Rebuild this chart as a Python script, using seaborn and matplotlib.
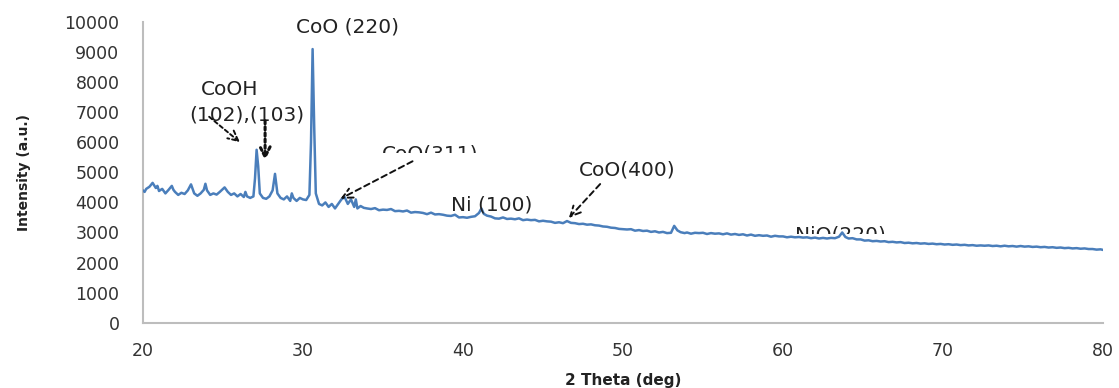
import matplotlib
matplotlib.use("Agg")
import matplotlib.pyplot as plt
import seaborn as sns
import pandas as pd
from matplotlib.transforms import Bbox, TransformedBbox

two_theta = [
    20.0, 20.1, 20.2, 20.4, 20.6, 20.8, 20.9, 21.0, 21.2, 21.4, 21.6, 21.8,
    21.9, 22.0, 22.2, 22.4, 22.6, 22.8, 23.0, 23.2, 23.4, 23.6, 23.8,
    23.9, 24.0, 24.2, 24.4, 24.6, 24.8, 25.0, 25.1, 25.3, 25.5,
    25.7, 25.9, 26.1, 26.3, 26.4, 26.5, 26.7, 26.9, 27.0, 27.1,
    27.2, 27.3, 27.5, 27.7, 27.9, 28.1, 28.25, 28.4, 28.6, 28.8,
    29.0, 29.2, 29.3, 29.4, 29.6, 29.8, 30.0, 30.2, 30.4, 30.5,
    30.6, 30.7, 30.8, 31.0, 31.2, 31.4, 31.6, 31.8, 32.0, 32.2,
    32.4, 32.6, 32.8, 33.0, 33.2, 33.3, 33.4, 33.6, 33.8,
    34.0, 34.25, 34.5, 34.75, 35.0, 35.25, 35.5, 35.75, 36.0, 36.25,
    36.5, 36.75, 37.0, 37.25, 37.5, 37.75, 38.0, 38.25, 38.5, 38.75,
    39.0, 39.25, 39.5, 39.75, 40.0, 40.25, 40.5, 40.75, 41.0, 41.15,
    41.3, 41.5, 41.75, 42.0, 42.25, 42.5, 42.75, 43.0, 43.25, 43.5,
    43.75, 44.0, 44.25, 44.5, 44.75, 45.0, 45.25, 45.5, 45.75, 46.0,
    46.25, 46.5, 46.75, 47.0, 47.25, 47.5, 47.75, 48.0, 48.25, 48.5,
    48.75, 49.0, 49.25, 49.5, 49.75, 50.0, 50.25, 50.5, 50.75, 51.0,
    51.25, 51.5, 51.75, 52.0, 52.25, 52.5, 52.75, 53.0, 53.2, 53.4,
    53.6, 53.85, 54.0, 54.25, 54.5, 54.75, 55.0, 55.25, 55.5, 55.75,
    56.0, 56.25, 56.5, 56.75, 57.0, 57.25, 57.5, 57.75, 58.0, 58.25,
    58.5, 58.75, 59.0, 59.25, 59.5, 59.75, 60.0, 60.25, 60.5, 60.75,
    61.0, 61.25, 61.5, 61.75, 62.0, 62.25, 62.5, 62.75, 63.0, 63.25,
    63.5, 63.7, 63.9, 64.1, 64.35, 64.6, 64.85, 65.1, 65.35, 65.6,
    65.85, 66.1, 66.35, 66.6, 66.85, 67.1, 67.35, 67.6, 67.85, 68.1,
    68.35, 68.6, 68.85, 69.1, 69.35, 69.6, 69.85, 70.1, 70.35, 70.6,
    70.85, 71.1, 71.35, 71.6, 71.85, 72.1, 72.35, 72.6, 72.85, 73.1,
    73.35, 73.6, 73.85, 74.1, 74.35, 74.6, 74.85, 75.1, 75.35, 75.6,
    75.85, 76.1, 76.35, 76.6, 76.85, 77.1, 77.35, 77.6, 77.85, 78.1,
    78.35, 78.6, 78.85, 79.1, 79.35, 79.6, 79.85, 80.0,
]
intensity = [
    4400, 4350, 4450, 4520, 4650, 4480, 4550, 4380, 4450, 4300, 4420, 4550,
    4420, 4350, 4250, 4320, 4280, 4400, 4600, 4300, 4220, 4300, 4420,
    4620, 4400, 4250, 4300, 4260, 4350, 4450, 4500, 4350, 4250,
    4300, 4200, 4280, 4180, 4350, 4200, 4150, 4200, 4800, 5750,
    5200, 4300, 4150, 4120, 4200, 4400, 4950, 4300, 4150, 4100,
    4200, 4050, 4300, 4150, 4050, 4150, 4100, 4080, 4250, 6000,
    9100, 6500, 4300, 3950, 3900, 4000, 3850, 3950, 3800, 3950,
    4100, 4180, 3950, 4100, 3850, 4100, 3800, 3880, 3820,
    3800, 3780, 3810, 3740, 3760, 3750, 3780, 3710, 3720, 3700,
    3730, 3660, 3680, 3670, 3650, 3610, 3660, 3600, 3610, 3590,
    3560, 3550, 3590, 3500, 3510, 3490, 3520, 3540, 3650, 3800,
    3620, 3560, 3530, 3470, 3460, 3500, 3450, 3460, 3440, 3470,
    3410, 3430, 3410, 3420, 3370, 3390, 3370, 3360, 3320, 3340,
    3310, 3380, 3320, 3310, 3280, 3290, 3260, 3270, 3240, 3230,
    3200, 3190, 3160, 3150, 3120, 3110, 3100, 3110, 3060, 3080,
    3050, 3060, 3020, 3040, 3000, 3020, 2980, 2990, 3220, 3070,
    3010, 2980, 3000, 2960, 2990, 2980, 2990, 2950, 2980, 2960,
    2970, 2940, 2970, 2930, 2950, 2920, 2940, 2900, 2930, 2890,
    2910, 2890, 2900, 2860, 2890, 2870, 2870, 2840, 2860, 2840,
    2850, 2830, 2840, 2810, 2830, 2800, 2820, 2800, 2820, 2810,
    2860, 3000, 2850, 2800, 2810, 2770, 2770, 2730, 2740, 2710,
    2720, 2700, 2710, 2680, 2690, 2670, 2680, 2650, 2660, 2640,
    2650, 2630, 2640, 2620, 2630, 2610, 2620, 2600, 2610, 2590,
    2600, 2580, 2590, 2570, 2580, 2560, 2570, 2560, 2570, 2550,
    2560, 2540, 2560, 2540, 2550, 2530, 2550, 2530, 2540, 2520,
    2530, 2510, 2520, 2500, 2510, 2490, 2500, 2480, 2490, 2470,
    2480, 2460, 2470, 2450, 2450, 2430, 2440, 2420,
]
x_ticks = [20, 30, 40, 50, 60, 70, 80]
y_ticks = [0, 1000, 2000, 3000, 4000, 5000, 6000, 7000, 8000, 9000, 10000]
x_label = "2 Theta (deg)"
y_label = "Intensity (a.u.)"

df = pd.DataFrame({"two_theta": two_theta, "intensity": intensity})

sns.set_style("white")
plt.rcParams["font.family"] = ["DejaVu Sans"]

fig = plt.figure(figsize=(11.19, 3.88), dpi=100)
ax = fig.add_axes([0.1278, 0.1683, 0.8579, 0.775])

sns.lineplot(data=df, x="two_theta", y="intensity", ax=ax,
             color="#4A7EBB", linewidth=1.8, zorder=3)

ax.set_xlim(20, 80)
ax.set_ylim(0, 10000)
ax.set_xticks(x_ticks)
ax.set_yticks(y_ticks)

for side in ("top", "right"):
    ax.spines[side].set_visible(False)
for side in ("left", "bottom"):
    ax.spines[side].set_color("#BDBDBD")
    ax.spines[side].set_linewidth(1.5)

ax.tick_params(axis="both", direction="out", length=6, width=1.3,
               color="#BDBDBD", labelcolor="#333333", labelsize=12.5)
ax.tick_params(axis="y", pad=11)
ax.tick_params(axis="x", pad=8)

ax.set_xlabel(x_label, fontsize=11, fontweight="bold", color="#222222",
              labelpad=9)
ax.set_ylabel(y_label, fontsize=10, fontweight="bold", color="#222222",
              labelpad=24, family=["Liberation Sans Narrow", "DejaVu Sans"])

txt_kw = dict(fontsize=14.5, color="#222222", ha="center", va="center", zorder=4)

ax.text(32.75, 9834, "CoO (220)", **txt_kw)
ax.text(25.44, 7739, "CoOH", **txt_kw)
ax.text(26.5, 6907, "(102),(103)", **txt_kw)
ax.text(41.81, 3914, "Ni (100)", **txt_kw)
ax.text(50.25, 5078, "CoO(400)", **txt_kw)

# labels partly hidden in the original (lower half clipped)
t1 = ax.text(37.94, 5600, "CoO(311)", clip_on=True, **txt_kw)
t1.set_clip_box(TransformedBbox(Bbox([[30, 5660], [46, 7000]]), ax.transData))
t2 = ax.text(63.56, 2900, "NiO(220)", clip_on=True, **txt_kw)
t2.set_clip_box(TransformedBbox(Bbox([[57, 2960], [70, 4000]]), ax.transData))

arrow_kw = dict(arrowstyle="->", color="#111111", lw=1.4,
                mutation_scale=18)
ax.annotate("", xy=(26.19, 5944), xytext=(24.0, 6907),
            arrowprops=dict(linestyle=(0, (2, 1.5)), **arrow_kw), zorder=5)
ax.annotate("", xy=(27.63, 5311), xytext=(27.63, 6807),
            arrowprops=dict(linestyle=(0, (1, 1)), **dict(arrow_kw, lw=2.2)), zorder=5)
ax.annotate("", xy=(32.19, 4080), xytext=(37.0, 5411),
            arrowprops=dict(linestyle=(0, (3, 2)), **arrow_kw), zorder=5)
ax.annotate("", xy=(46.5, 3416), xytext=(48.69, 4679),
            arrowprops=dict(linestyle=(0, (3, 2)), **arrow_kw), zorder=5)

fig.savefig("out.png", dpi=100)
